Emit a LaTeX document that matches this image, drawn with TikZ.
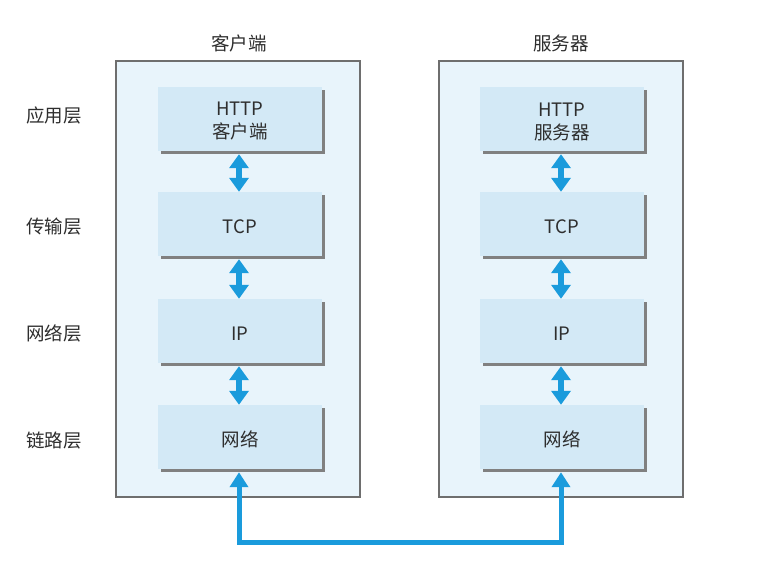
\documentclass[tikz,border=0pt]{standalone}
\usepackage{fontspec}
\setmainfont{Noto Sans CJK SC}
\usetikzlibrary{arrows.meta,shadows}
\definecolor{outerfill}{HTML}{E8F4FB}
\definecolor{innerfill}{HTML}{D3E9F6}
\definecolor{bordergray}{HTML}{6E6E6E}
\definecolor{shadowgray}{HTML}{808080}
\definecolor{arrowblue}{HTML}{1A9BDC}
\definecolor{textgray}{HTML}{2E2E2E}
\tikzset{
  outerbox/.style={draw=bordergray, line width=1.1pt, fill=outerfill},
  innerbox/.style={fill=innerfill, minimum width=164pt, minimum height=64pt, inner sep=0pt,
    drop shadow={shadow xshift=3pt, shadow yshift=-3pt, fill=shadowgray, opacity=1}},
  boxtext/.style={yshift=-2.5pt, align=center, text=textgray, inner sep=0pt,
    font=\fontsize{18.5}{23}\selectfont},
  lbl/.style={text=textgray, font=\fontsize{18.5}{23}\selectfont, inner sep=0pt},
  dblarrow/.style={arrowblue, line width=6.5pt,
    {Triangle[width=19pt,length=14pt]}-{Triangle[width=19pt,length=14pt]}},
  link/.style={arrowblue, line width=5pt,
    {Triangle[width=18pt,length=15pt]}-{Triangle[width=18pt,length=15pt]}}
}
\begin{document}
\begin{tikzpicture}[x=1pt,y=-1pt]
\useasboundingbox[fill=white] (0,0) rectangle (763,562);
% outer boxes
\draw[outerbox] (116,61) rectangle (360,497);
\draw[outerbox] (439,61) rectangle (683,497);
\node[lbl] (clientT) at (239,43) {客户端};
\node[lbl] (serverT) at (561,43) {服务器};
% layer labels
\node[lbl] (l1) at (54,115) {应用层};
\node[lbl] (l2) at (54,227) {传输层};
\node[lbl] (l3) at (54,333) {网络层};
\node[lbl] (l4) at (54,441) {链路层};
% client stack
\node[innerbox, label={[boxtext]center:{HTTP\\客户端}}] (h1) at (240,119) {};
\node[innerbox, label={[boxtext]center:TCP}] (t1) at (240,224) {};
\node[innerbox, label={[boxtext]center:IP}] (i1) at (240,331) {};
\node[innerbox, label={[boxtext]center:网络}] (n1) at (240,437) {};
% server stack
\node[innerbox, label={[boxtext]center:{HTTP\\服务器}}] (h2) at (562,119) {};
\node[innerbox, label={[boxtext]center:TCP}] (t2) at (562,224) {};
\node[innerbox, label={[boxtext]center:IP}] (i2) at (562,331) {};
\node[innerbox, label={[boxtext]center:网络}] (n2) at (562,437) {};
% arrows
\foreach \a/\b in {h1/t1,t1/i1,i1/n1,h2/t2,t2/i2,i2/n2}{
  \draw[dblarrow, shorten <=3pt] ([xshift=-1pt]\a.south) -- ([xshift=-1pt]\b.north);
}
\coordinate (b1) at (239,542);
\coordinate (b2) at (561,542);
\draw[link, shorten <=3pt, shorten >=3pt] ([xshift=-1pt]n1.south) -- (b1) -- (b2) -- ([xshift=-1pt]n2.south);
\end{tikzpicture}
\end{document}
